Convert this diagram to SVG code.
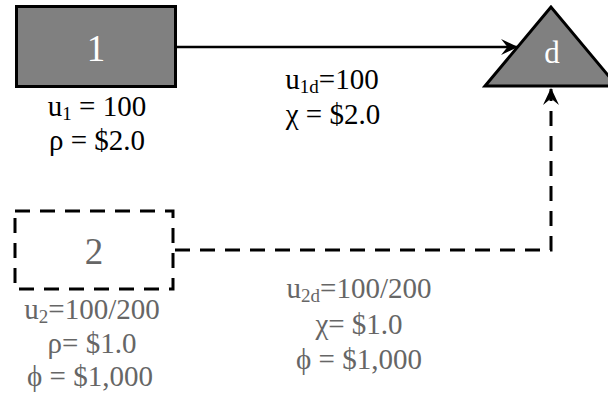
<svg xmlns="http://www.w3.org/2000/svg" width="608" height="401" viewBox="0 0 608 401">
<style>
text{font-family:"Liberation Serif","Times New Roman",serif;text-anchor:middle}
.lbl{font-size:29px}
.blk{fill:#000}
.gry{fill:#666}
.sub{font-size:19px}
.node1{fill:#808080;stroke:#000;stroke-width:3}
.node2{fill:none;stroke:#000;stroke-width:3;stroke-dasharray:15 10}
.solid{fill:none;stroke:#000;stroke-width:2.5}
.dashed{fill:none;stroke:#000;stroke-width:3;stroke-dasharray:15 10}
</style>
<defs>
<marker id="arr" viewBox="0 0 16 16" refX="15" refY="8" markerWidth="17" markerHeight="17" orient="auto" markerUnits="userSpaceOnUse">
<path d="M0,0.5 L16,8 L0,15.5 L6,8 Z" fill="#000"/>
</marker>
</defs>
<g id="connectors">
<path class="solid" d="M177,47 H517" marker-end="url(#arr)"/>
<path class="dashed" d="M175,250 H551 V89" marker-end="url(#arr)"/>
</g>
<g id="node-1">
<rect class="node1" x="16.5" y="6.5" width="159" height="80"/>
<text x="96" y="61" font-size="37" fill="#fff">1</text>
</g>
<g id="node-d">
<polygon class="node1" points="551,7 485,86 617,86" stroke-linejoin="miter"/>
<text x="552" y="63" font-size="31" fill="#fff">d</text>
</g>
<g id="node-2">
<rect class="node2" x="15" y="211" width="158" height="78"/>
<text x="94" y="264" font-size="37" class="gry">2</text>
</g>
<g id="labels">
<text class="lbl blk" x="97" y="116">u<tspan class="sub" dy="4">1</tspan><tspan dy="-4"> = 100</tspan></text>
<text class="lbl blk" x="97" y="150">ρ = $2.0</text>
<text class="lbl blk" x="332" y="89">u<tspan class="sub" dy="4">1d</tspan><tspan dy="-4">=100</tspan></text>
<text class="lbl blk" x="333" y="124">χ = $2.0</text>
<text class="lbl gry" x="92" y="319">u<tspan class="sub" dy="4">2</tspan><tspan dy="-4">=100/200</tspan></text>
<text class="lbl gry" x="92" y="353">ρ= $1.0</text>
<text class="lbl gry" x="90" y="386">ϕ = $1,000</text>
<text class="lbl gry" x="359" y="298">u<tspan class="sub" dy="4">2d</tspan><tspan dy="-4">=100/200</tspan></text>
<text class="lbl gry" x="359" y="334">χ= $1.0</text>
<text class="lbl gry" x="359" y="369">ϕ = $1,000</text>
</g>
</svg>
